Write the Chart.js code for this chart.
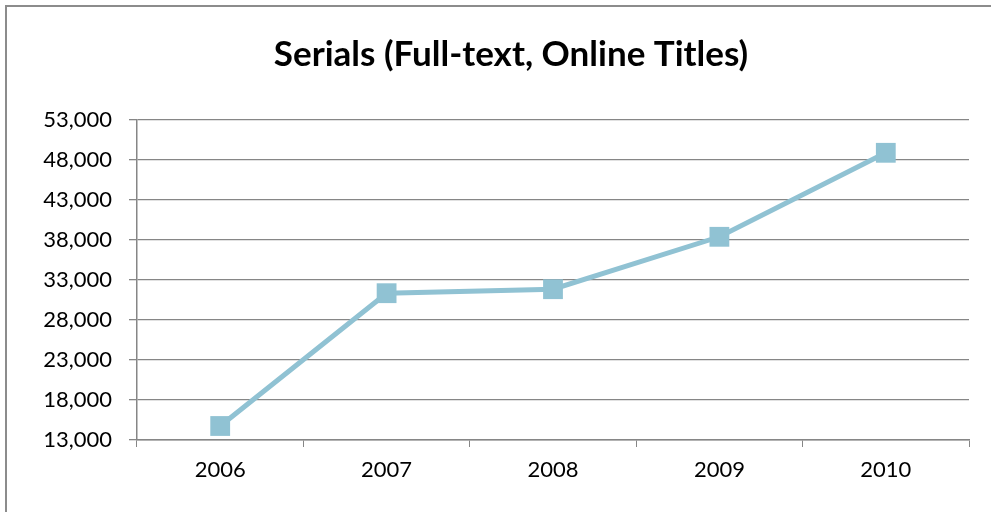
<!DOCTYPE html>
<html>
<head>
<meta charset="utf-8">
<script src="https://cdn.jsdelivr.net/npm/chart.js@4"></script>
<style>
    html, body { margin: 0; padding: 0; background: #fff; overflow: hidden; }
    #frame {
        position: absolute; left: 5px; top: 5px;
        width: 1010px; height: 530px;
        border: 2px solid #8c8c8c;
    }
    #wrap { position: absolute; left: 0; top: 0; width: 991px; height: 512px; }
</style>
</head>
<body>
<div id="frame"></div>
<div id="wrap"><canvas id="serialsChart"></canvas></div>
<script>
// Chart data
const years = ['2006', '2007', '2008', '2009', '2010'];
const serialTitles = [14750, 31350, 31850, 38400, 48900];
const yMin = 13000;
const yMax = 53000;
const yStep = 5000;

const LINE_COLOR = 'rgb(144, 194, 211)';
const GRID_COLOR = '#868686';
const FONT = 'Lato, "Open Sans", sans-serif';

// Centre the title a little right of the canvas centre, like the original
const titleShift = {
    id: 'titleShift',
    afterLayout(chart) {
        if (chart.titleBlock) {
            chart.titleBlock.left = 53;
        }
    }
};

const ctx = document.getElementById('serialsChart').getContext('2d');

new Chart(ctx, {
    type: 'line',
    data: {
        labels: years,
        datasets: [{
            label: 'Serials',
            data: serialTitles,
            borderColor: LINE_COLOR,
            backgroundColor: LINE_COLOR,
            borderWidth: 5,
            pointStyle: 'rect',
            pointRadius: 14,
            pointHoverRadius: 14,
            pointBorderWidth: 0,
            tension: 0
        }]
    },
    options: {
        responsive: true,
        maintainAspectRatio: false,
        animation: false,
        layout: { padding: { left: 0, right: 22, top: 0, bottom: 0 } },
        plugins: {
            legend: { display: false },
            tooltip: { enabled: false },
            title: {
                display: true,
                text: 'Serials (Full-text, Online Titles)',
                color: '#000',
                font: { family: FONT, size: 35, weight: 'bold', lineHeight: 1.2 },
                padding: { top: 34, bottom: 44 }
            }
        },
        scales: {
            x: {
                offset: true,
                grid: {
                    offset: true,
                    drawOnChartArea: false,
                    drawTicks: true,
                    tickLength: 7,
                    color: GRID_COLOR,
                    lineWidth: 1
                },
                border: { display: true, color: GRID_COLOR, width: 1.5 },
                ticks: {
                    color: '#000',
                    font: { family: FONT, size: 22 },
                    padding: 10
                },
                afterFit: (scale) => { scale.height = 72; }
            },
            y: {
                min: yMin,
                max: yMax,
                grid: {
                    color: GRID_COLOR,
                    lineWidth: 1.3,
                    drawTicks: true,
                    tickLength: 8
                },
                border: { display: true, color: GRID_COLOR, width: 1.5 },
                ticks: {
                    stepSize: yStep,
                    color: '#000',
                    font: { family: FONT, size: 22 },
                    padding: 17,
                    callback: (value) => value.toLocaleString('en-US')
                },
                afterFit: (scale) => { scale.width = 137; }
            }
        }
    },
    plugins: [titleShift]
});
</script>
</body>
</html>
